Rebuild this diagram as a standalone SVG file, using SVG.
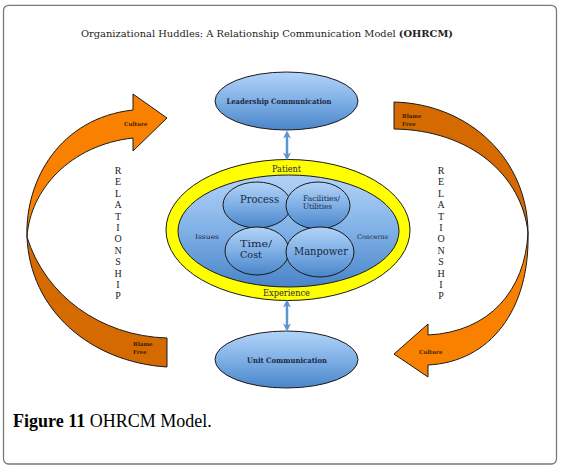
<svg xmlns="http://www.w3.org/2000/svg" width="561" height="471" viewBox="0 0 561 471">
<defs>
<linearGradient id="blueGrad" x1="0" y1="0" x2="0" y2="1">
<stop offset="0" stop-color="#b3d3f8"/>
<stop offset="0.5" stop-color="#7fb0e6"/>
<stop offset="1" stop-color="#4a85c9"/>
</linearGradient>
<marker id="ah" viewBox="0 0 10 10" refX="7" refY="5" markerWidth="3.2" markerHeight="3.2" orient="auto-start-reverse">
<path d="M0,0 L10,5 L0,10 L3,5 Z" fill="#5f93cf"/>
</marker>
<style>
.bl{fill:url(#blueGrad);stroke:#1a1a1a;stroke-width:1}
.lo{fill:#fa8000;stroke:#1a1a1a;stroke-width:1;stroke-linejoin:miter}
.do{fill:#d46a00;stroke:#1a1a1a;stroke-width:1}
.nt{font-family:"DejaVu Serif","Liberation Serif",serif;fill:#1b2840}
.sm{font-family:"DejaVu Serif","Liberation Serif",serif;font-size:5.5px;fill:#3a2200;font-weight:bold}
.rel{font-family:"Liberation Serif",serif;font-size:10px;fill:#222;text-anchor:middle}
.conn{stroke:#5f93cf;stroke-width:2.5;fill:none}
</style>
</defs>
<rect width="561" height="471" fill="#ffffff"/>
<g id="border"><rect x="3.5" y="5.3" width="553" height="458.7" rx="5" ry="5" fill="none" stroke="#7a7a7a" stroke-width="1.3"/></g>
<g id="title"><text x="81" y="37" font-family="DejaVu Serif, Liberation Serif, serif" font-size="9.5" fill="#222" textLength="372" lengthAdjust="spacingAndGlyphs">Organizational Huddles: A Relationship Communication Model <tspan font-weight="bold">(OHRCM)</tspan></text></g>

<g id="left-arrow">
<path class="do" d="M27,237 C30,310 90,362 167,367 L167,338 C100,336 45,295 27,237 Z"/>
<path class="lo" d="M27,237 C25,180 60,118 133,110 L133,94 L167,118 L133,151 L133,138 C70,145 30,190 27,237 Z"/>
<text class="sm" x="124" y="126">Culture</text>
<text class="sm" x="133" y="346">Blame</text>
<text class="sm" x="133" y="354">Free</text>
</g>
<g id="right-arrow">
<path class="do" d="M394,102 C470,104 528,160 528,233 C522,175 470,130 394,129 Z"/>
<path class="lo" d="M528,233 C530,310 490,362 428,365 L428,377 L394,354 L428,324 L428,335 C490,332 525,290 528,233 Z"/>
<text class="sm" x="402" y="118">Blame</text>
<text class="sm" x="402" y="126">Free</text>
<text class="sm" x="419" y="354">Culture</text>
</g>

<g id="relationship-left">
<text class="rel" x="118" y="174">R</text><text class="rel" x="118" y="185.4">E</text><text class="rel" x="118" y="196.8">L</text><text class="rel" x="118" y="208.2">A</text><text class="rel" x="118" y="219.6">T</text><text class="rel" x="118" y="231">I</text><text class="rel" x="118" y="242.4">O</text><text class="rel" x="118" y="253.8">N</text><text class="rel" x="118" y="265.2">S</text><text class="rel" x="118" y="276.6">H</text><text class="rel" x="118" y="288">I</text><text class="rel" x="118" y="299.4">P</text>
</g>
<g id="relationship-right">
<text class="rel" x="441" y="174">R</text><text class="rel" x="441" y="185.4">E</text><text class="rel" x="441" y="196.8">L</text><text class="rel" x="441" y="208.2">A</text><text class="rel" x="441" y="219.6">T</text><text class="rel" x="441" y="231">I</text><text class="rel" x="441" y="242.4">O</text><text class="rel" x="441" y="253.8">N</text><text class="rel" x="441" y="265.2">S</text><text class="rel" x="441" y="276.6">H</text><text class="rel" x="441" y="288">I</text><text class="rel" x="441" y="299.4">P</text>
</g>

<g id="leadership">
<ellipse class="bl" cx="286.5" cy="101" rx="71.5" ry="29"/>
<text class="nt" x="226.5" y="104" font-size="7.5" font-weight="bold" textLength="105" lengthAdjust="spacingAndGlyphs">Leadership Communication</text>
</g>
<g id="unit">
<ellipse class="bl" cx="286.5" cy="359.5" rx="71.5" ry="28.5"/>
<text class="nt" x="247" y="363" font-size="7.5" font-weight="bold" textLength="80" lengthAdjust="spacingAndGlyphs">Unit Communication</text>
</g>

<g id="patient-experience">
<ellipse cx="288" cy="230" rx="122" ry="70.5" fill="#ffff00" stroke="#1a1a1a" stroke-width="1"/>
<text class="nt" x="272" y="172" font-size="8.5" textLength="29" lengthAdjust="spacingAndGlyphs">Patient</text>
<text class="nt" x="263" y="296" font-size="8.5" textLength="47" lengthAdjust="spacingAndGlyphs">Experience</text>
</g>
<g id="issues-concerns">
<ellipse class="bl" cx="288.5" cy="231" rx="110.5" ry="56"/>
<text class="nt" x="195" y="239" font-size="6.5" textLength="24" lengthAdjust="spacingAndGlyphs">Issues</text>
<text class="nt" x="357" y="239" font-size="6.5" textLength="31" lengthAdjust="spacingAndGlyphs">Concerns</text>
</g>
<g id="process">
<ellipse class="bl" cx="257" cy="205" rx="34" ry="23"/>
<text class="nt" x="240" y="203" font-size="10.5" textLength="39" lengthAdjust="spacingAndGlyphs">Process</text>
</g>
<g id="facilities">
<ellipse class="bl" cx="318" cy="205.5" rx="32" ry="23.5"/>
<text class="nt" x="303" y="201" font-size="7.5" textLength="37" lengthAdjust="spacingAndGlyphs">Facilities/</text>
<text class="nt" x="303" y="209" font-size="7.5" textLength="29" lengthAdjust="spacingAndGlyphs">Utilities</text>
</g>
<g id="time-cost">
<ellipse class="bl" cx="257" cy="251" rx="32" ry="24"/>
<text class="nt" x="240" y="247" font-size="9.5" textLength="32" lengthAdjust="spacingAndGlyphs">Time/</text>
<text class="nt" x="240" y="258" font-size="9.5" textLength="22" lengthAdjust="spacingAndGlyphs">Cost</text>
</g>
<g id="manpower">
<ellipse class="bl" cx="320" cy="252" rx="34" ry="25"/>
<text class="nt" x="294" y="255" font-size="10.5" textLength="54" lengthAdjust="spacingAndGlyphs">Manpower</text>
</g>

<g id="connectors">
<line class="conn" x1="287" y1="133" x2="287" y2="158" marker-start="url(#ah)" marker-end="url(#ah)"/>
<line class="conn" x1="287" y1="302" x2="287" y2="329" marker-start="url(#ah)" marker-end="url(#ah)"/>
</g>

<g id="caption"><text x="13" y="427" font-family="Liberation Serif, serif" font-size="18" fill="#000"><tspan font-weight="bold">Figure 11</tspan> OHRCM Model.</text></g>
</svg>
